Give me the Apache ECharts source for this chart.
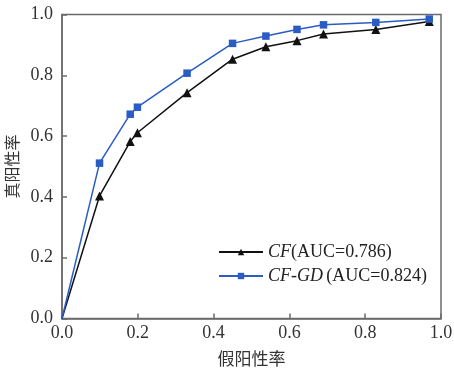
<!DOCTYPE html>
<html><head><meta charset="utf-8">
<script src="https://cdn.jsdelivr.net/npm/echarts@6/dist/echarts.min.js"></script>
<style>html,body{margin:0;padding:0;background:#fff}#c{width:454px;height:368px}</style>
</head><body><div id="c"></div>
<script>
const fprCF = [0, 0.099, 0.180, 0.199, 0.330, 0.450, 0.538, 0.620, 0.690, 0.828, 0.969];
const tprCF = [0, 0.403, 0.582, 0.611, 0.743, 0.853, 0.894, 0.914, 0.936, 0.951, 0.977];
const fprGD = [0, 0.099, 0.180, 0.199, 0.330, 0.450, 0.538, 0.620, 0.690, 0.828, 0.969];
const tprGD = [0, 0.511, 0.672, 0.695, 0.807, 0.905, 0.929, 0.951, 0.966, 0.974, 0.985];
const seriesNames = ['CF', 'CF-GD'];
const xTitle = '假阳性率';
const yTitle = '真阳性率';

const serif = '"Liberation Serif", "Times New Roman", serif';
const cjk = '"Noto Sans CJK SC", sans-serif';
const axisCol = '#6b6b6b';

function pts(xs, ys) {
  return xs.map((x, i) => (x === 0 && ys[i] === 0) ? {value: [x, ys[i]], symbol: 'none'} : [x, ys[i]]);
}

const chart = echarts.init(document.getElementById('c'));
chart.setOption({
  animation: false,
  grid: {left: 62, right: 13, top: 14.5, bottom: 49.5, containLabel: false, outerBoundsMode: 'none',
         show: true, borderColor: axisCol, borderWidth: 1.5},
  xAxis: {
    type: 'value', min: 0, max: 1, interval: 0.2,
    name: xTitle, nameLocation: 'middle', nameGap: 32,
    nameTextStyle: {fontFamily: cjk, fontSize: 17, color: '#333'},
    axisLine: {show: true, lineStyle: {color: axisCol, width: 1.5}},
    axisTick: {show: true, inside: true, length: 5, lineStyle: {color: axisCol, width: 1.5}},
    axisLabel: {fontFamily: serif, fontSize: 18, color: '#333', margin: 6, formatter: v => v.toFixed(1)},
    splitLine: {show: false}
  },
  yAxis: {
    type: 'value', min: 0, max: 1, interval: 0.2,
    name: yTitle, nameLocation: 'middle', nameGap: 33, nameRotate: 90,
    nameTextStyle: {fontFamily: cjk, fontSize: 16, color: '#333'},
    axisLine: {show: true, lineStyle: {color: axisCol, width: 1.5}},
    axisTick: {show: true, inside: true, length: 5, lineStyle: {color: axisCol, width: 1.5}},
    axisLabel: {fontFamily: serif, fontSize: 18, color: '#333', margin: 9, formatter: v => v.toFixed(1)},
    splitLine: {show: false}
  },
  legend: {
    orient: 'vertical', left: 218, top: 243, padding: 0, itemWidth: 44, itemHeight: 8, itemGap: 6,
    data: seriesNames,
    formatter: function (n) {
      if (n === 'CF') return '{i|CF}{r|(AUC=0.786)}';
      return '{i|CF-GD} {r|(AUC=0.824)}';
    },
    textStyle: {
      rich: {
        i: {fontFamily: serif, fontStyle: 'italic', fontSize: 18, color: '#222'},
        r: {fontFamily: serif, fontSize: 18, color: '#222'}
      }
    }
  },
  series: [
    {
      name: seriesNames[0], type: 'line',
      data: pts(fprCF, tprCF),
      symbol: 'triangle', symbolSize: 9, showAllSymbol: true,
      lineStyle: {color: '#111', width: 1.5}, itemStyle: {color: '#111'}
    },
    {
      name: seriesNames[1], type: 'line',
      data: pts(fprGD, tprGD),
      symbol: 'rect', symbolSize: 7.5, showAllSymbol: true,
      lineStyle: {color: '#2a5cc4', width: 1.5}, itemStyle: {color: '#2a5cc4'}
    }
  ]
});
</script></body></html>
